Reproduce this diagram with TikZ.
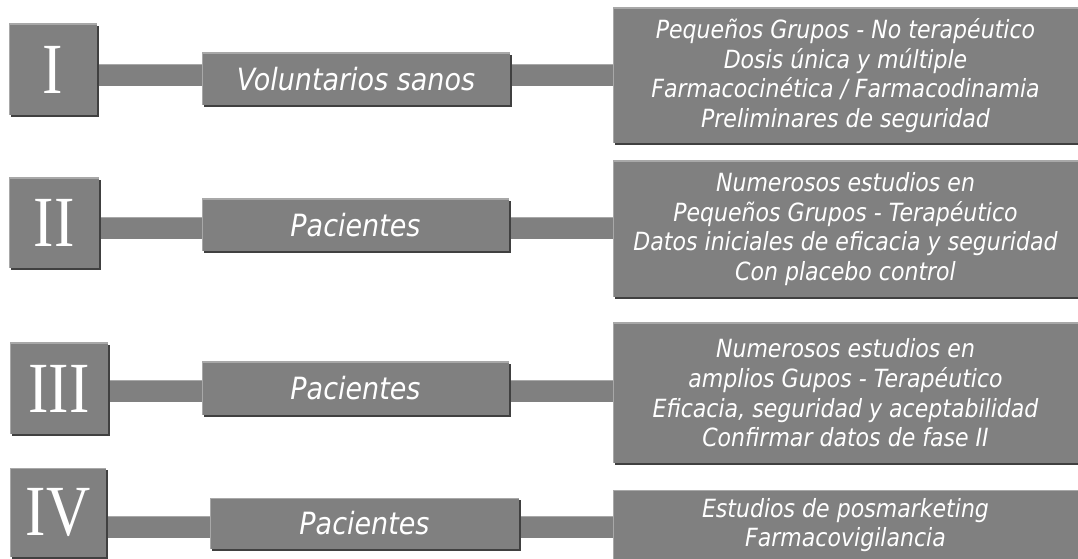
\documentclass[tikz,border=0pt]{standalone}
\usepackage{fontspec}
\setmainfont{DejaVu Sans}[FakeStretch=0.88]
\newfontfamily\numfont{Liberation Serif}[FakeStretch=0.85]
\usetikzlibrary{shadows,backgrounds}
\definecolor{boxgray}{RGB}{128,128,128}
\definecolor{edgelight}{RGB}{168,168,168}
\definecolor{edgedark}{RGB}{64,64,64}
\tikzset{
  panel/.style={fill=boxgray, text=white, inner sep=0pt,
    drop shadow={shadow xshift=1.5pt, shadow yshift=-1.5pt, fill=edgedark, opacity=1},
    path picture={\draw[edgelight, line width=1.5pt]
      (path picture bounding box.south west) -- (path picture bounding box.north west)
      -- (path picture bounding box.north east);}},
  numeral/.style={panel, font=\numfont\fontsize{54pt}{54pt}\selectfont},
  phase/.style={panel, font=\itshape\fontsize{23pt}{26pt}\selectfont},
  detail/.style={panel, align=center, font=\itshape\fontsize{18.8pt}{22.2pt}\selectfont},
  bar/.style={boxgray, line width=16.5pt,
    preaction={draw=edgedark, transform canvas={yshift=-1.5pt}},
    postaction={draw=edgelight, line width=0.75pt, transform canvas={yshift=7.9pt}}}
}
\begin{document}
\begin{tikzpicture}[x=0.75pt, y=-0.75pt]
\useasboundingbox (0,0) rectangle (1078,559);
% fase I
\node[numeral, minimum width=66pt, minimum height=68.25pt] (n1) at (53,69.5) {I};
\node[phase, minimum width=231pt, minimum height=39pt] (p1) at (356,79) {Voluntarios sanos};
\node[detail, minimum width=348.75pt, minimum height=101.25pt] (d1) at (845.5,75.5)
  {Pequeños Grupos - No terapéutico\\Dosis única y múltiple\\Farmacocinética / Farmacodinamia\\Preliminares de seguridad};
% fase II
\node[numeral, minimum width=67.5pt, minimum height=67.5pt] (n2) at (54,223) {II};
\node[phase, minimum width=230.25pt, minimum height=39pt] (p2) at (355.5,225) {Pacientes};
\node[detail, minimum width=348.75pt, minimum height=102pt] (d2) at (845.5,229)
  {Numerosos estudios en\\Pequeños Grupos - Terapéutico\\Datos iniciales de eficacia y seguridad\\Con placebo control};
% fase III
\node[numeral, minimum width=73.5pt, minimum height=68.25pt] (n3) at (59,388.5) {III};
\node[phase, minimum width=230.25pt, minimum height=39.75pt] (p3) at (355.5,388.5) {Pacientes};
\node[detail, minimum width=348.75pt, minimum height=105pt] (d3) at (845.5,393)
  {Numerosos estudios en\\amplios Gupos - Terapéutico\\Eficacia, seguridad y aceptabilidad\\Confirmar datos de fase II};
% fase IV
\node[numeral, minimum width=72pt, minimum height=66.75pt] (n4) at (58,512.5) {IV};
\node[phase, minimum width=231.75pt, minimum height=38.25pt] (p4) at (364.5,523.5) {Pacientes};
\node[detail, minimum width=348.75pt, minimum height=52.5pt] (d4) at (845.5,525)
  {Estudios de posmarketing\\Farmacovigilancia};
% barras
\coordinate (b1) at (0,75);
\coordinate (b2) at (0,228.5);
\coordinate (b3) at (0,391.5);
\coordinate (b4) at (0,527);
\begin{scope}[on background layer]
\foreach \i in {1,...,4}{
  \draw[bar] (n\i.east |- b\i) -- (p\i.west |- b\i);
  \draw[bar] (p\i.east |- b\i) -- (d\i.west |- b\i);
}
\end{scope}
\end{tikzpicture}
\end{document}
